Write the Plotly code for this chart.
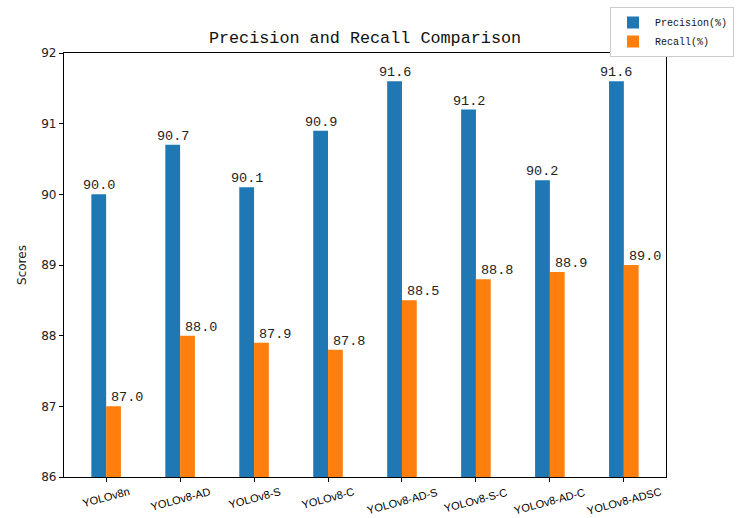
import plotly.graph_objects as go

# Model variants and their scores (%)
models = ["YOLOv8n", "YOLOv8-AD", "YOLOv8-S", "YOLOv8-C",
          "YOLOv8-AD-S", "YOLOv8-S-C", "YOLOv8-AD-C", "YOLOv8-ADSC"]
precision = [90.0, 90.7, 90.1, 90.9, 91.6, 91.2, 90.2, 91.6]
recall = [87.0, 88.0, 87.9, 87.8, 88.5, 88.8, 88.9, 89.0]
y_ticks = [86, 87, 88, 89, 90, 91, 92]

W, H = 737, 518
M = dict(l=64, r=71, t=53, b=41, autoexpand=False)
BLUE, ORANGE = "#1f77b4", "#ff7f0e"

fig = go.Figure()
fig.add_trace(go.Bar(x=models, y=precision, name="Precision(%)",
                     marker=dict(color=BLUE, line=dict(width=0))))
fig.add_trace(go.Bar(x=models, y=recall, name="Recall(%)",
                     marker=dict(color=ORANGE, line=dict(width=0))))

label_font = dict(family="Liberation Mono", size=13.5, color="#222")
annotations = []
# value labels above bars (precision centred on its bar, recall shifted right)
for m, p, r in zip(models, precision, recall):
    annotations.append(dict(x=m, y=p, xref="x", yref="y", text=f"{p:.1f}",
                            showarrow=False, xanchor="center", yanchor="bottom",
                            xshift=-7.4, yshift=-1, font=label_font))
    annotations.append(dict(x=m, y=r, xref="x", yref="y", text=f"{r:.1f}",
                            showarrow=False, xanchor="center", yanchor="bottom",
                            xshift=21, yshift=-1, font=label_font))
# rotated category labels centred under the ticks
for m in models:
    annotations.append(dict(x=m, y=0, xref="x", yref="paper", text=m,
                            showarrow=False, xanchor="center", yanchor="top",
                            yshift=-6, textangle=-15,
                            font=dict(family="Liberation Sans", size=11,
                                      color="black")))

fig.update_layout(
    width=W, height=H, margin=M,
    paper_bgcolor="white", plot_bgcolor="white",
    barmode="group", bargap=0.6, bargroupgap=0,
    title=dict(text="Precision and Recall Comparison",
               font=dict(family="Liberation Mono", size=16.8, color="#111"),
               x=(64 + 301) / W, xanchor="center",
               y=1 - 37 / H, yanchor="middle"),
    legend=dict(xref="container", yref="container",
                x=610 / W, y=1 - 7 / H, xanchor="left", yanchor="top",
                bordercolor="#cccccc", borderwidth=1, bgcolor="white",
                font=dict(family="Liberation Mono", size=10, color="#111"),
                itemwidth=34, tracegroupgap=0),
    showlegend=True,
    annotations=annotations,
)
fig.update_xaxes(
    range=[-0.57, 7.57], showline=True, linecolor="black", linewidth=1.2,
    mirror=True, ticks="outside", ticklen=4, tickcolor="black",
    showticklabels=False, showgrid=False, automargin=False,
)
fig.update_yaxes(
    range=[86, 92], tickvals=y_ticks, showline=True, linecolor="black",
    linewidth=1.2, mirror=True, ticks="outside", ticklen=4, tickcolor="black",
    showgrid=False, zeroline=False, automargin=False,
    tickfont=dict(family="DejaVu Sans", size=12, color="#222"),
    title=dict(text="Scores", font=dict(family="DejaVu Sans", size=12, color="#222"),
               standoff=12),
)

fig.write_html("out.html")
